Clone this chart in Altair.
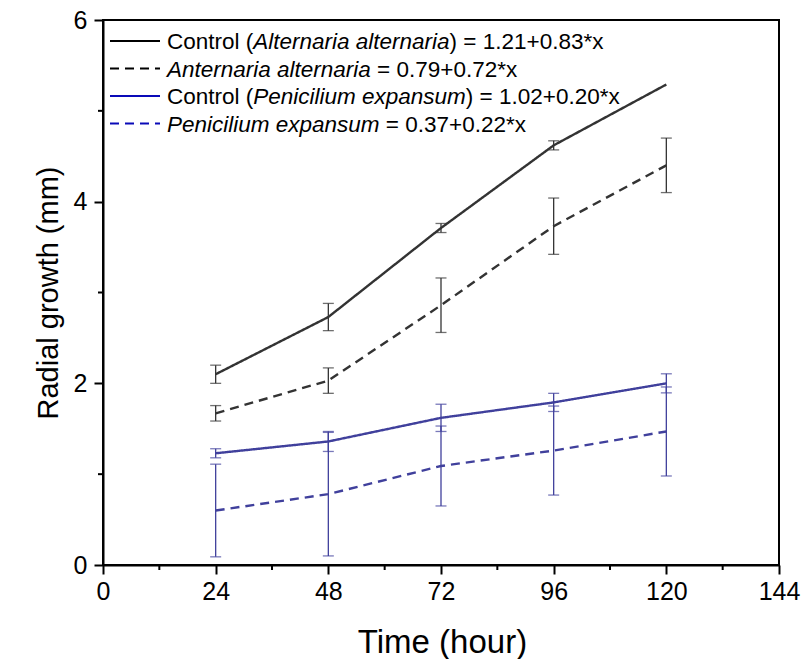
import altair as alt
import pandas as pd

# ---------------- data ----------------
hours = [24, 48, 72, 96, 120]
series_names = ["ctrl_alt", "alt_alt", "ctrl_pen", "pen"]
ctrl_alt = [2.10, 2.73, 3.71, 4.62, 5.29]
ctrl_alt_err = [0.10, 0.15, 0.05, 0.05, 0.0]
alt_alt = [1.67, 2.03, 2.86, 3.73, 4.40]
alt_alt_err = [0.085, 0.14, 0.30, 0.31, 0.30]
ctrl_pen = [1.23, 1.36, 1.62, 1.79, 2.00]
ctrl_pen_err = [0.05, 0.11, 0.15, 0.10, 0.105]
pen = [0.60, 0.78, 1.09, 1.26, 1.47]
pen_err = [0.51, 0.68, 0.44, 0.49, 0.49]

x_major = [0, 24, 48, 72, 96, 120, 144]
x_minor = [12, 36, 60, 84, 108, 132]
y_major = [0, 2, 4, 6]
y_minor = [1, 3, 5]

legend_rows = [
    [("Control (", "normal"), ("Alternaria alternaria", "italic"), (") = 1.21+0.83*x", "normal")],
    [("Anternaria alternaria", "italic"), (" = 0.79+0.72*x", "normal")],
    [("Control (", "normal"), ("Penicilium expansum", "italic"), (") = 1.02+0.20*x", "normal")],
    [("Penicilium expansum", "italic"), (" = 0.37+0.22*x", "normal")],
]

# ---------------- styles ----------------
line_colors = ["#000000", "#000000", "#0a0ab8", "#0a0ab8"]
err_colors = ["#333333", "#333333", "#40409c", "#40409c"]
dashes = [[1, 0], [9, 6], [1, 0], [9, 6]]
FONT = "Liberation Sans"

rows = []
for name, vals, errs in [("ctrl_alt", ctrl_alt, ctrl_alt_err), ("alt_alt", alt_alt, alt_alt_err),
                         ("ctrl_pen", ctrl_pen, ctrl_pen_err), ("pen", pen, pen_err)]:
    for h, v, e in zip(hours, vals, errs):
        rows.append({"series": name, "hour": h, "value": v, "lo": v - e, "hi": v + e, "err": e})
df = pd.DataFrame(rows)

W, H = 676, 545
xscale = alt.Scale(domain=[0, 144], nice=False)
yscale = alt.Scale(domain=[0, 6], nice=False)

xaxis = alt.Axis(values=x_major, format="d", title="Time (hour)", grid=False, tickSize=9, labelPadding=5,
                 labelFontSize=25, titleFontSize=33, titleFontWeight="normal",
                 titleX=W / 2 + 1, titleY=87, titleBaseline="alphabetic", titleAnchor="middle",
                 labelFlush=False)
yaxis = alt.Axis(values=y_major, format="d", title="Radial growth (mm)", grid=False, tickSize=9,
                 labelPadding=7, labelFontSize=25, titleFontSize=29, titleFontWeight="normal",
                 titleX=-46, titleY=H / 2, titleBaseline="alphabetic", titleAnchor="middle",
                 labelFlush=False)

color_scale = alt.Scale(domain=series_names, range=line_colors)
err_scale = alt.Scale(domain=series_names, range=err_colors)
dash_scale = alt.Scale(domain=series_names, range=dashes)

base = alt.Chart(df)

lines = base.mark_line(strokeWidth=2.4, clip=False).encode(
    x=alt.X("hour:Q", scale=xscale, axis=xaxis),
    y=alt.Y("value:Q", scale=yscale, axis=yaxis),
    color=alt.Color("series:N", scale=color_scale, legend=None),
    strokeDash=alt.StrokeDash("series:N", scale=dash_scale, legend=None),
    detail="series:N",
)

errdf = base.transform_filter("datum.err > 0")
err_rules = errdf.mark_rule(strokeWidth=1.3).encode(
    x=alt.X("hour:Q", scale=xscale),
    y=alt.Y("lo:Q", scale=yscale),
    y2="hi:Q",
    color=alt.Color("series:N", scale=err_scale, legend=None),
)
cap_lo = errdf.mark_tick(orient="horizontal", size=11, thickness=1.3).encode(
    x=alt.X("hour:Q", scale=xscale),
    y=alt.Y("lo:Q", scale=yscale),
    color=alt.Color("series:N", scale=err_scale, legend=None),
)
cap_hi = errdf.mark_tick(orient="horizontal", size=11, thickness=1.3).encode(
    x=alt.X("hour:Q", scale=xscale),
    y=alt.Y("hi:Q", scale=yscale),
    color=alt.Color("series:N", scale=err_scale, legend=None),
)

# minor ticks
xminor = alt.Chart(pd.DataFrame({"m": x_minor})).mark_rule(strokeWidth=2, color="black").encode(
    x=alt.X("m:Q", scale=xscale), y=alt.value(H), y2=alt.value(H + 5))
yminor = alt.Chart(pd.DataFrame({"m": y_minor})).mark_rule(strokeWidth=2, color="black").encode(
    y=alt.Y("m:Q", scale=yscale), x=alt.value(0), x2=alt.value(-5))

# ---------------- manual legend ----------------
ARIAL = {" ": 278, "(": 333, ")": 333, "=": 584, "+": 584, "*": 389, ".": 278,
         "C": 722, "A": 667, "P": 667, "o": 556, "n": 556, "t": 278, "r": 333, "l": 222,
         "e": 556, "a": 556, "i": 222, "c": 500, "u": 556, "m": 833, "x": 500, "p": 556,
         "s": 500}
for d in "0123456789":
    ARIAL[d] = 556

LFS = 22.5

def text_width(s):
    return sum(ARIAL.get(ch, 556) for ch in s) / 1000.0 * LFS

dummy = pd.DataFrame({"a": [0]})
legend_layers = []
row_y = [21, 48.5, 76, 103.5]
for i, parts in enumerate(legend_rows):
    ry = row_y[i]
    legend_layers.append(
        alt.Chart(dummy).mark_rule(strokeWidth=2, color=line_colors[i], strokeDash=dashes[i]).encode(
            x=alt.value(7), x2=alt.value(57), y=alt.value(ry)))
    tx = 64
    for txt, style in parts:
        stripped = txt.lstrip(" ")
        tx += text_width(txt[: len(txt) - len(stripped)])
        legend_layers.append(
            alt.Chart(dummy).mark_text(align="left", baseline="middle", fontSize=LFS, font=FONT,
                                       fontStyle=style, color="black").encode(
                x=alt.value(tx), y=alt.value(ry + 1), text=alt.value(stripped)))
        tx += text_width(stripped)

chart = alt.layer(err_rules, cap_lo, cap_hi, lines, xminor, yminor, *legend_layers).properties(
    width=W, height=H,
    autosize=alt.AutoSizeParams(type="none"),
    padding={"left": 103, "top": 20, "right": 22, "bottom": 94},
    background="white",
).configure_view(stroke="black", strokeWidth=2).configure_axis(
    domainColor="black", domainWidth=2, tickColor="black", tickWidth=2,
    labelColor="black", titleColor="black", labelFont=FONT, titleFont=FONT,
)

chart.save("out.html", embed_options={"renderer": "svg", "actions": False})
